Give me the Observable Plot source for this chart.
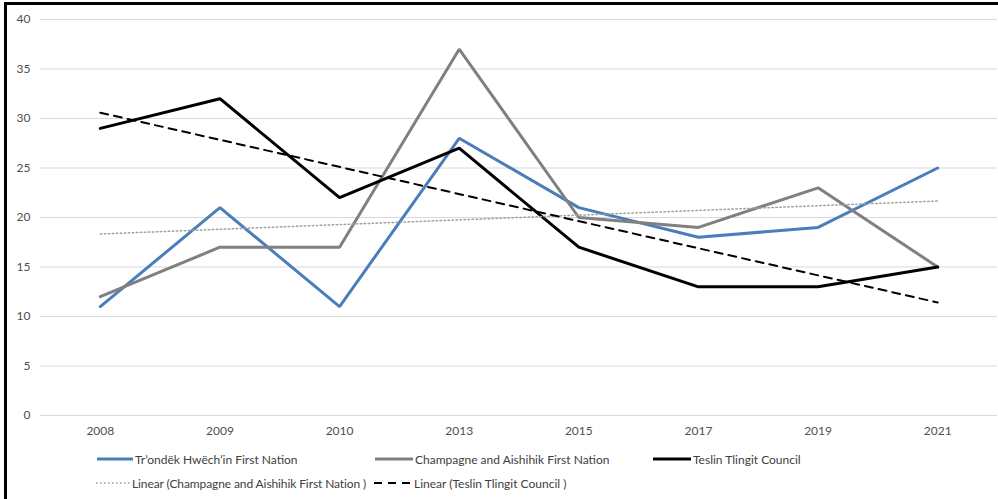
<!DOCTYPE html>
<html>
<head>
<meta charset="utf-8">
<script src="https://cdn.jsdelivr.net/npm/d3@7"></script>
<script src="https://cdn.jsdelivr.net/npm/@observablehq/plot@0.6"></script>
<style>
  html, body { margin: 0; padding: 0; background: #fff; }
  #wrap { position: relative; width: 998px; height: 499px; overflow: hidden; font-family: Lato, "Open Sans", sans-serif; }
  #chart { position: absolute; left: 0; top: 0; }
  .bl { position: absolute; background: #000; }
  .leg { position: absolute; font-size: 12px; color: #404040; white-space: nowrap; display: flex; align-items: center; }
  .leg svg { display: block; margin-right: 2px; }
</style>
</head>
<body>
<div id="wrap">
  <div id="chart"></div>
  <div class="bl" style="left:4px;top:2px;width:3px;height:497px"></div>
  <div class="bl" style="left:4px;top:2px;width:994px;height:3px"></div>
  <div id="legend"></div>
</div>
<script>
const years = ["2008", "2009", "2010", "2013", "2015", "2017", "2019", "2021"];
const trondek = [11, 21, 11, 28, 21, 18, 19, 25];
const champagne = [12, 17, 17, 37, 20, 19, 23, 15];
const teslin = [29, 32, 22, 27, 17, 13, 13, 15];
const seriesNames = ["Tr’ondëk Hwëch’in First Nation", "Champagne and Aishihik First Nation", "Teslin Tlingit Council"];
const trendNames = ["Linear (Champagne and Aishihik First Nation )", "Linear (Teslin Tlingit Council )"];
const yTicks = [0, 5, 10, 15, 20, 25, 30, 35, 40];

const colors = ["#4a7ebb", "#808080", "#000000"];
const valuesList = [trondek, champagne, teslin];
const rows = [];
valuesList.forEach((vals, s) => vals.forEach((v, i) => rows.push({i, v, s: seriesNames[s]})));
const champRows = champagne.map((v, i) => ({i, v}));
const teslinRows = teslin.map((v, i) => ({i, v}));

const plot = Plot.plot({
  width: 998,
  height: 440,
  marginLeft: 40,
  marginRight: 1,
  marginTop: 19,
  marginBottom: 25,
  style: {fontFamily: "Lato, 'Open Sans', sans-serif", fontSize: "12px", color: "#505050", background: "transparent"},
  x: {type: "linear", domain: [-0.5, 7.5], ticks: d3.range(years.length), tickFormat: i => years[i], tickSize: 0, tickPadding: 11, label: null},
  y: {domain: [0, 40], ticks: yTicks, tickSize: 0, tickPadding: 10, label: null, grid: false},
  marks: [
    Plot.gridY(yTicks, {stroke: "#d9d9d9", strokeOpacity: 1, strokeWidth: 1.2}),
    Plot.line(rows, {x: "i", y: "v", z: "s", stroke: d => colors[seriesNames.indexOf(d.s)], strokeWidth: 3, strokeLinejoin: "miter"}),
    Plot.linearRegressionY(champRows, {x: "i", y: "v", ci: 0, stroke: "#a0a0a0", strokeWidth: 1.5, strokeDasharray: "1.5,2.5"}),
    Plot.linearRegressionY(teslinRows, {x: "i", y: "v", ci: 0, stroke: "#000", strokeWidth: 2, strokeDasharray: "8,6"})
  ]
});
document.getElementById("chart").appendChild(plot);

const legend = document.getElementById("legend");
const items = [
  {label: seriesNames[0], left: 97, top: 459, w: 36, stroke: colors[0], sw: 3, dash: null, ls: 0},
  {label: seriesNames[1], left: 375, top: 459, w: 38, stroke: colors[1], sw: 3, dash: null, ls: 0},
  {label: seriesNames[2], left: 653, top: 459, w: 38, stroke: colors[2], sw: 3, dash: null, ls: 0},
  {label: trendNames[0], left: 96, top: 483, w: 34, stroke: "#a0a0a0", sw: 1.5, dash: "1.5,2.5", ls: -0.1},
  {label: trendNames[1], left: 374, top: 483, w: 38, stroke: "#000", sw: 2, dash: "8,6", ls: 0}
];
items.forEach(it => {
  const d = document.createElement("div");
  d.className = "leg";
  d.style.left = it.left + "px";
  d.style.top = (it.top - 8) + "px";
  d.style.height = "16px";
  d.style.letterSpacing = it.ls + "px";
  d.innerHTML = `<svg width="${it.w}" height="16"><line x1="0" x2="${it.w}" y1="8" y2="8" stroke="${it.stroke}" stroke-width="${it.sw}" ${it.dash ? `stroke-dasharray="${it.dash}"` : ""}/></svg><span>${it.label}</span>`;
  legend.appendChild(d);
});
</script>
</body>
</html>
